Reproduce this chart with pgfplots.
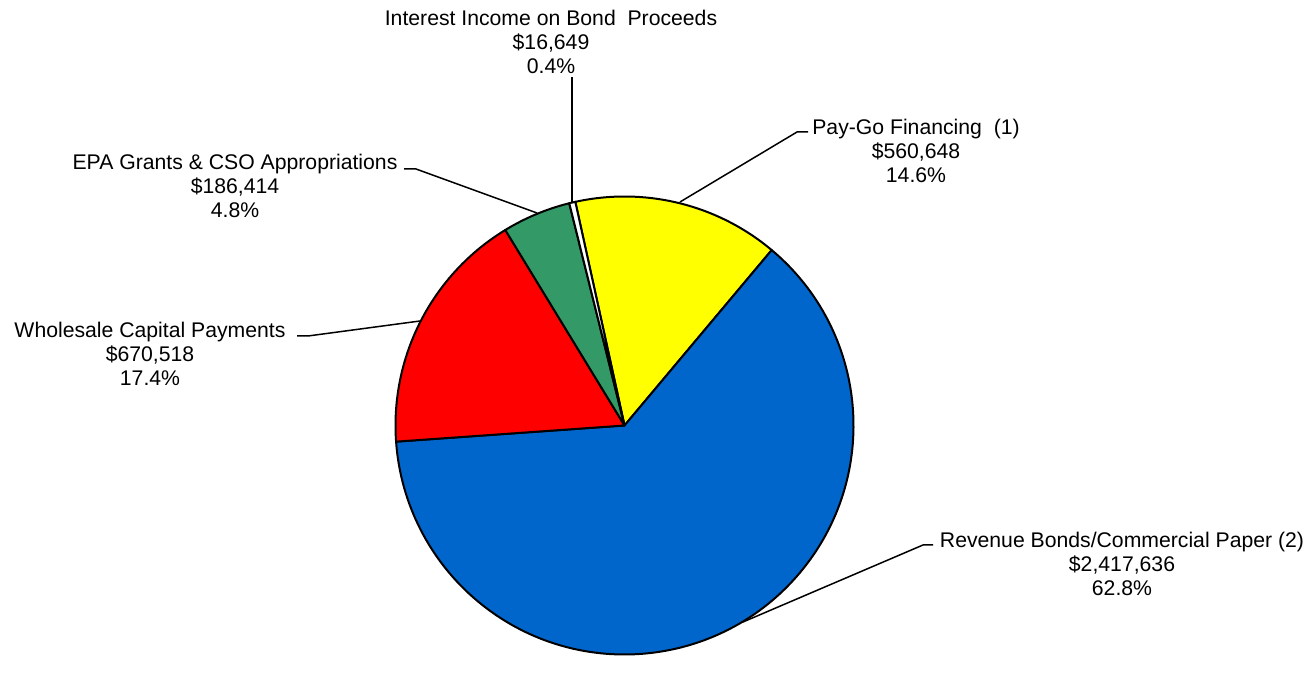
\documentclass[border=0pt]{standalone}
\usepackage{pgfplots}
\usepackage{pgfplotstable}
\pgfplotsset{compat=1.18}
\usepackage{fontspec}
\setmainfont{Liberation Sans}

\definecolor{payyellow}{HTML}{FFFF00}
\definecolor{revblue}{HTML}{0066CC}
\definecolor{wholered}{HTML}{FF0000}
\definecolor{epagreen}{HTML}{339966}

% slices, clockwise from the top
\pgfplotstableread[col sep=comma]{
value,colour
560648,payyellow
2417636,revblue
670518,wholered
186414,epagreen
16649,white
}\piedata

\begin{document}
\begin{tikzpicture}
\pgfplotstablegetrowsof{\piedata}
\pgfmathtruncatemacro\lastrow{\pgfplotsretval-1}
\gdef\total{0}
\foreach \i in {0,...,\lastrow}{%
  \pgfplotstablegetelem{\i}{value}\of\piedata
  \xdef\total{\fpeval{\total+\pgfplotsretval}}%
}
\begin{axis}[
    width=656pt, height=329pt,
    scale only axis,
    hide axis,
    xmin=0, xmax=1312,
    ymin=0, ymax=658,
    clip=false,
]
\path (axis cs:0,0) rectangle (axis cs:1312,658);
\pgfplotsextra{%
  \xdef\ang{102.4}%
  \foreach \i in {0,...,\lastrow}{%
    \pgfplotstablegetelem{\i}{value}\of\piedata \let\sliceval\pgfplotsretval
    \pgfplotstablegetelem{\i}{colour}\of\piedata \let\slicecol\pgfplotsretval
    \edef\endang{\fpeval{\ang-\sliceval/\total*360}}%
    \filldraw[fill=\slicecol, draw=black, line width=1pt, line join=round]
      (axis cs:624.5,232.5) -- ++(\ang:114.5pt)
      arc[start angle=\ang, end angle=\endang, radius=114.5pt] -- cycle;
    \xdef\ang{\endang}%
  }%
}

% leader lines
\draw[line width=0.75pt] (axis cs:572,581) -- (axis cs:572,456);
\draw[line width=0.75pt] (axis cs:808,526) -- (axis cs:797,526) -- (axis cs:680,456);
\draw[line width=0.75pt] (axis cs:404,489) -- (axis cs:416,489) -- (axis cs:537,445);
\draw[line width=0.75pt] (axis cs:297,322) -- (axis cs:308,322) -- (axis cs:420,337);
\draw[line width=0.75pt] (axis cs:933,113) -- (axis cs:923,113) -- (axis cs:743,36);

\tikzset{lbl/.style={align=center, inner sep=0pt,
    font=\fontsize{10.6pt}{12pt}\selectfont}}
\node[lbl] at (axis cs:551,616) {Interest Income on Bond\ \ Proceeds\\\$16,649\\0.4\%};
\node[lbl] at (axis cs:916,507) {Pay-Go Financing\ \ (1)\\\$560,648\\14.6\%};
\node[lbl] at (axis cs:235,472) {EPA Grants \& CSO Appropriations\\\$186,414\\4.8\%};
\node[lbl] at (axis cs:150,304) {Wholesale Capital Payments\\\$670,518\\17.4\%};
\node[lbl] at (axis cs:1122,94) {Revenue Bonds/Commercial Paper (2)\\\$2,417,636\\62.8\%};
\end{axis}
\end{tikzpicture}
\end{document}
